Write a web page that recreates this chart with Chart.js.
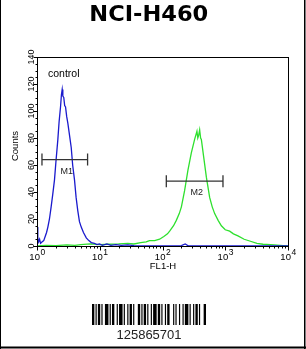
<!DOCTYPE html>
<html>
<head>
<meta charset="utf-8">
<script src="https://cdn.jsdelivr.net/npm/chart.js@4.4.0/dist/chart.umd.min.js"></script>
<style>
  html, body { margin: 0; padding: 0; background: #fff; }
  #wrap { position: relative; width: 306px; height: 349px; }
</style>
</head>
<body>
<div id="wrap"><canvas id="chart" width="306" height="349"></canvas></div>
<script>
// ---- data ----
const controlX = [1.0, 1.03, 1.06, 1.1, 1.14, 1.2, 1.28, 1.35, 1.42, 1.49, 1.58, 1.68, 1.78, 1.9, 2.0, 2.15, 2.25, 2.37, 2.45, 2.52,
  2.58, 2.67, 2.76, 2.85, 2.97, 3.1, 3.3, 3.51, 3.7, 3.96, 4.2, 4.47, 4.75, 5.07, 5.5, 6.1, 6.7, 7.33, 8.2, 9.0,
  9.9, 11, 13, 15, 18, 22, 28, 35, 50, 100, 200, 230, 260, 1000, 10000];
const controlY = [14, 6, 3, 5, 2, 3, 4, 7, 10, 14, 20, 29, 38, 49, 62, 79, 92, 103, 112, 116,
  111, 110, 104, 103, 96, 91, 82, 73, 60, 49, 36, 26, 18, 14, 10, 6, 4, 2.5, 2, 1,
  1.5, 0.5, 1.5, 0.5, 1, 0.5, 0.8, 0.3, 0, 0, 0.3, 1.5, 0, 0, 0];

const sampleX = [1.0, 1.4, 2, 3, 4, 5, 7, 10, 14, 20, 28, 35, 45, 55, 62, 75, 90, 105, 120, 130,
  150, 166, 185, 200, 225, 254, 288, 325, 354, 365, 377, 391, 405, 416, 453, 500, 564, 620, 678, 770,
  867, 1000, 1175, 1350, 1595, 2000, 2450, 3200, 4000, 6000, 8320, 10000];
const sampleY = [0, 0.5, 0.3, 0.8, 0.5, 1, 1.5, 1, 1.3, 1.5, 2, 1.5, 2.5, 3, 4, 4, 5, 7, 9, 11,
  15, 19, 24, 29, 41, 56, 69, 79, 85, 80, 82, 86, 80, 79, 66, 51, 36, 29, 24, 19,
  15, 12, 11, 9, 7.5, 5, 3.7, 2, 1.3, 0.8, 0.3, 0];

const yTicks = [0, 20, 40, 60, 80, 100, 120, 140];
const xDecades = [1, 10, 100, 1000, 10000];
const xExponents = ['0', '1', '2', '3', '4'];

const markerLabels = ['M1', 'M2'];
const markerFrom = [1.2, 115];
const markerTo = [6.4, 920];
const markerLevel = [64, 48];

const barcodeText = '125865701';
const barcodeWidths = [2,1,1,1,2,1,1,2,3,1,1,1,2,2,1,1,3,1,1,2,1,1,2,1,1,3,2,1,1,1,
  2,1,1,2,1,1,3,1,2,1,1,2,1,1,2,3,1,1,1,2,1,2,1,1,3,1,1,2,1,1,2,1,1,3,2];

const FONT = '"Liberation Sans", Arial, sans-serif';

function pairs(xs, ys) {
  return xs.map(function (x, i) { return { x: x, y: ys[i] }; });
}

const decor = {
  id: 'decor',
  afterDatasetsDraw: function (chart) {
    const ctx = chart.ctx;
    const area = chart.chartArea;
    const xs = chart.scales.x;
    const ys = chart.scales.y;
    ctx.save();

    // outer frame
    ctx.fillStyle = '#000';
    ctx.fillRect(0, 0, 1, 349);
    ctx.fillRect(304, 0, 1.5, 349);
    ctx.fillRect(0, 346.5, 306, 2);

    // plot box
    ctx.strokeStyle = '#000';
    ctx.lineWidth = 1;
    ctx.strokeRect(area.left + 0.5, area.top + 0.5, area.right - area.left, area.bottom - area.top);

    // y ticks
    ctx.beginPath();
    for (let v = 0; v <= 140; v += 5) {
      const py = Math.round(ys.getPixelForValue(v)) + 0.5;
      const len = v % 20 === 0 ? 4 : 2;
      ctx.moveTo(area.left + 0.5, py);
      ctx.lineTo(area.left + 0.5 - len, py);
    }
    // x ticks
    for (let d = 0; d < xDecades.length; d++) {
      for (let k = 1; k <= 9; k++) {
        const v = xDecades[d] * k;
        if (v > 10000) break;
        const px = Math.round(xs.getPixelForValue(v)) + 0.5;
        const len = k === 1 ? 4 : 2;
        ctx.moveTo(px, area.bottom + 0.5);
        ctx.lineTo(px, area.bottom + 0.5 + len);
      }
    }
    ctx.stroke();

    // y tick labels (rotated)
    ctx.fillStyle = '#000';
    ctx.font = '9px ' + FONT;
    ctx.textAlign = 'center';
    ctx.textBaseline = 'alphabetic';
    yTicks.forEach(function (v) {
      const py = ys.getPixelForValue(v);
      ctx.save();
      ctx.translate(33.5, py);
      ctx.rotate(-Math.PI / 2);
      ctx.fillText(String(v), 0, 0);
      ctx.restore();
    });

    // x tick labels with superscript
    xDecades.forEach(function (v, i) {
      const px = xs.getPixelForValue(v);
      ctx.font = '9.5px ' + FONT;
      const wBase = ctx.measureText('10').width;
      ctx.font = '8.5px ' + FONT;
      const wExp = ctx.measureText(xExponents[i]).width;
      const start = px - (wBase + wExp) / 2;
      ctx.textAlign = 'left';
      ctx.font = '9.5px ' + FONT;
      ctx.fillText('10', start, 259.5);
      ctx.font = '8.5px ' + FONT;
      ctx.fillText(xExponents[i], start + wBase + 0.5, 255);
    });

    // axis titles
    ctx.textAlign = 'center';
    ctx.font = '9.5px ' + FONT;
    ctx.fillText('FL1-H', (area.left + area.right) / 2 + 0.5, 269);
    ctx.save();
    ctx.translate(18, 146);
    ctx.rotate(-Math.PI / 2);
    ctx.fillText('Counts', 0, 0);
    ctx.restore();

    // control label
    ctx.textAlign = 'left';
    ctx.font = '10.5px ' + FONT;
    ctx.fillText('control', 48, 77);

    // gate markers
    ctx.strokeStyle = '#333';
    ctx.lineWidth = 1.3;
    markerLabels.forEach(function (lab, i) {
      const x1 = xs.getPixelForValue(markerFrom[i]);
      const x2 = xs.getPixelForValue(markerTo[i]);
      const py = ys.getPixelForValue(markerLevel[i]);
      ctx.beginPath();
      ctx.moveTo(x1, py); ctx.lineTo(x2, py);
      ctx.moveTo(x1, py - 6); ctx.lineTo(x1, py + 6);
      ctx.moveTo(x2, py - 6); ctx.lineTo(x2, py + 6);
      ctx.stroke();
      ctx.fillStyle = '#222';
      ctx.textAlign = 'center';
      ctx.font = '9px ' + FONT;
      ctx.fillText(lab, (x1 + x2) / 2 + 2, py + 14);
    });

    // title, stretched to the reference width
    ctx.fillStyle = '#000';
    ctx.font = 'bold 21px "DejaVu Sans", ' + FONT;
    ctx.textAlign = 'center';
    const tw = ctx.measureText('NCI-H460').width;
    ctx.save();
    ctx.translate(148.8, 20.5);
    ctx.scale(119 / tw, 1);
    ctx.fillText('NCI-H460', 0, 0);
    ctx.restore();

    // barcode
    let total = 0;
    barcodeWidths.forEach(function (w) { total += w; });
    const bx0 = 92, bw = 114, sc = bw / total;
    let bx = bx0;
    barcodeWidths.forEach(function (w, i) {
      if (i % 2 === 0) ctx.fillRect(bx, 304, w * sc, 21);
      bx += w * sc;
    });
    ctx.font = '13px ' + FONT;
    ctx.fillStyle = '#222';
    ctx.fillText(barcodeText, 149, 339);

    ctx.restore();
  }
};

new Chart(document.getElementById('chart'), {
  type: 'line',
  data: {
    datasets: [
      {
        label: 'control',
        data: pairs(controlX, controlY),
        borderColor: '#1a1acd',
        borderWidth: 1.3,
        pointRadius: 0,
        tension: 0,
        fill: false
      },
      {
        label: 'NCI-H460',
        data: pairs(sampleX, sampleY),
        borderColor: '#2ee02e',
        borderWidth: 1.3,
        pointRadius: 0,
        tension: 0,
        fill: false
      }
    ]
  },
  options: {
    responsive: false,
    animation: false,
    devicePixelRatio: 1,
    layout: { padding: { left: 37, top: 57, right: 18, bottom: 103 } },
    scales: {
      x: { type: 'logarithmic', min: 1, max: 10000, display: false },
      y: { type: 'linear', min: 0, max: 140, display: false }
    },
    plugins: {
      legend: { display: false },
      tooltip: { enabled: false },
      title: { display: false }
    }
  },
  plugins: [decor]
});
</script>
</body>
</html>
